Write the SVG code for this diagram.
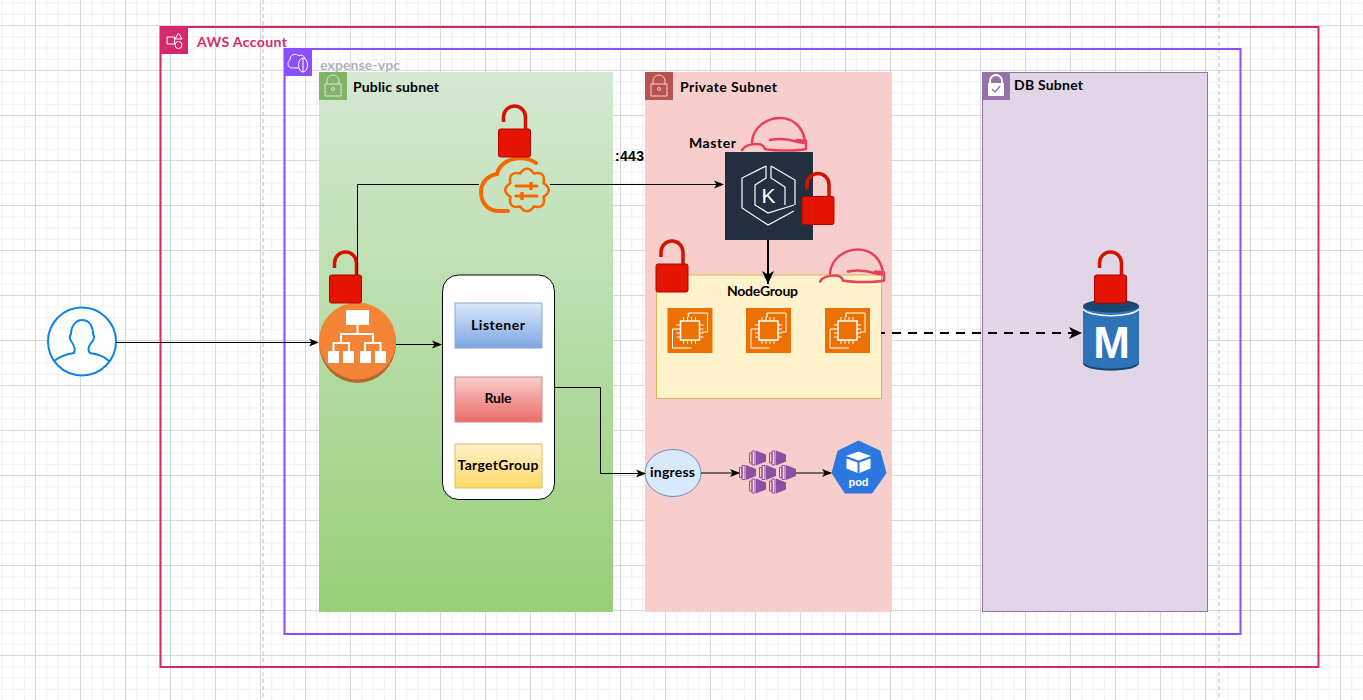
<svg xmlns="http://www.w3.org/2000/svg" width="1363" height="700" viewBox="0 0 1363 700">
<style>
text{font-family:"Comic Sans MS","Lato","Liberation Sans",sans-serif;font-weight:700;font-size:14px;fill:#000}
.m{text-anchor:middle}
.c{fill:none;stroke:#000;stroke-width:1}
.t{fill:none;stroke:#000;stroke-width:2}
.g{fill:none;stroke:#444;stroke-width:1.500}
.hat{fill:none;stroke:#e8415a;stroke-width:2.500;stroke-linejoin:round;stroke-linecap:round}
</style>
<defs>
<pattern id="g" width="45" height="45" patternUnits="userSpaceOnUse" x="35" y="25">
<path d="M11.750 0V45M23 0V45M34.250 0V45M0 11.750H45M0 23H45M0 34.250H45" stroke="#f0f0f0" stroke-width="1" fill="none"/>
<path d="M.5 0V45M0 .5H45" stroke="#d9d9d9" stroke-width="1" fill="none"/>
</pattern>
<linearGradient id="gs" x1="0" y1="0" x2="0" y2="1"><stop offset="0" stop-color="#d5e8d4"/><stop offset="1" stop-color="#97d077"/></linearGradient>
<linearGradient id="gl" x1="0" y1="0" x2="0" y2="1"><stop offset="0" stop-color="#dae8fc"/><stop offset="1" stop-color="#7ea6e0"/></linearGradient>
<linearGradient id="gr" x1="0" y1="0" x2="0" y2="1"><stop offset="0" stop-color="#f8cecc"/><stop offset="1" stop-color="#ea6b66"/></linearGradient>
<linearGradient id="gt" x1="0" y1="0" x2="0" y2="1"><stop offset="0" stop-color="#fff2cc"/><stop offset="1" stop-color="#ffd966"/></linearGradient>
<marker id="a" markerWidth="10" markerHeight="10" refX="9" refY="5" orient="auto" markerUnits="userSpaceOnUse"><path d="M0 1L10 5L0 9L2.500 5Z" fill="#000"/></marker>
<marker id="b" markerWidth="14" markerHeight="14" refX="13" refY="7" orient="auto" markerUnits="userSpaceOnUse"><path d="M0 1L13 7L0 13L3.500 7Z" fill="#000"/></marker>
<g id="lock"><path d="M-11 -21V-26A11 11 0 0 1 11 -26V-14" fill="none" stroke="#d41200" stroke-width="3.500"/><rect x="-16" y="-14" width="32" height="28" rx="2" fill="#e51400" stroke="#b20000"/></g>
<g id="hat"><path class="hat" d="M-23 7C-22 -8 -8 -17 5 -17C18 -17 28 -8 30 6M-33 15C-30 10 -25 9 -18 9C-14 9 -11 11 -10 14C0 16 22 16 31 14V6L22 5M-5 5C4 3 14 4 23 7L29 8"/></g>
<g id="ec2"><rect width="45" height="45" fill="#ed7100"/><path d="M21 5H40V24H35M24 40H5V21H10" fill="none" stroke="#fff" stroke-width="1"/><path d="M21 9V5M13 13H32V32H13Z" fill="none" stroke="#fff" stroke-width="1.500"/><path d="M16 13V9M20 13V9M24 13V9M28 13V9M16 36V32M20 36V32M24 36V32M28 36V32M9 17H13M9 21H13M9 25H13M9 29H13M32 17H36M32 21H36M32 25H36M32 29H36" stroke="#fff" stroke-width="1"/></g>
<g id="cont"><path d="M.5 -5H3V5H.5ZM3 -7H6V7H3Z" fill="none" stroke="#8c4fa3" stroke-width="1"/><path d="M7 -7.500L17 -3.500V3.500L7 7.500Z" fill="#8c4fa3"/></g>
</defs>
<rect width="1363" height="700" fill="#fff"/>
<rect width="1363" height="700" fill="url(#g)"/>
<path d="M263 0V700M1219 0V700" stroke="#bdbdbd" stroke-width="1" stroke-dasharray="4 3" fill="none"/>

<g id="aws-account">
<rect x="160.500" y="27" width="1158" height="640" fill="none" stroke="#d6286c" stroke-width="2"/>
<rect x="160" y="26" width="28" height="28" fill="#d6286c"/>
<path d="M167 37H174.500V44H167ZM178.500 33L182 39H175Z" fill="none" stroke="#fff" stroke-width="1"/><circle cx="178.500" cy="45" r="3.500" fill="none" stroke="#fff"/>
<text x="197" y="47" textLength="90" style="fill:#d6286c">AWS Account</text>
</g>
<g id="expense-vpc">
<rect x="284.500" y="49" width="956" height="585" fill="none" stroke="#8c4fff" stroke-width="2"/>
<rect x="284" y="48" width="28" height="28" fill="#8c4fff"/>
<path d="M299 68H292C287 68 287 61 290 60C290 54 296 53 299 56C301 54 305 56 305 59" fill="none" stroke="#fff"/><ellipse cx="303" cy="65" rx="4.500" ry="7" fill="none" stroke="#fff"/><path d="M303 58V72" stroke="#fff"/>
<text x="320" y="70" textLength="80" style="fill:#aab7b8">expense-vpc</text>
</g>
<g id="public-subnet">
<rect x="319" y="72" width="294" height="540" fill="url(#gs)"/>
<rect x="319" y="72" width="28" height="28" fill="#82b366"/>
<path d="M327 84V81A6 6 0 0 1 339 81V84M325 84H341V96H325Z" fill="none" stroke="#d5e8d4"/><circle cx="333" cy="89" r="1.500" fill="none" stroke="#d5e8d4"/>
<text x="353" y="92" textLength="86">Public subnet</text>
</g>
<g id="private-subnet">
<rect x="645" y="72" width="247" height="540" fill="#f8cecc"/>
<rect x="645" y="72" width="28" height="28" fill="#b85450"/>
<path d="M653 84V81A6 6 0 0 1 665 81V84M651 84H667V96H651Z" fill="none" stroke="#f8cecc"/><circle cx="659" cy="89" r="1.500" fill="none" stroke="#f8cecc"/>
<text x="680" y="92" textLength="97">Private Subnet</text>
</g>
<g id="db-subnet">
<rect x="982.500" y="72.500" width="225" height="539" fill="#e1d5e7" stroke="#9673a6"/>
<rect x="982" y="72" width="28" height="28" fill="#9673a6"/>
<path d="M990 83V81A6 6 0 0 1 1002 81V83" fill="none" stroke="#fff" stroke-width="2"/><rect x="988" y="83" width="16" height="13" rx="1" fill="#fff"/><path d="M992 89L995 92L1000 86" fill="none" stroke="#9673a6" stroke-width="1.500"/>
<text x="1014" y="90" textLength="69">DB Subnet</text>
</g>

<g id="user">
<circle cx="82" cy="341.500" r="34" fill="#fff" stroke="#0a84e8" stroke-width="2"/>
<path d="M54 361C60 356 68 354 74 353C76 349 74 345 71 341C69 338 70 335 71 334C71 326 76 320 82 320C89 320 93 326 93 334C95 336 94 339 92 342C89 345 87 350 90 353C97 354 104 356 109 361" fill="none" stroke="#0a84e8" stroke-width="2"/>
</g>
<g id="load-balancer">
<ellipse cx="357.500" cy="343.500" rx="38.500" ry="39.500" fill="#b5672f"/>
<circle cx="357.500" cy="341" r="38.500" fill="#f58536"/>
<path d="M357.500 325V334M341 343V334H373V343M333.500 351V343H349V351M365 351V343H380.500V351" fill="none" stroke="#fff" stroke-width="2"/>
<rect x="346" y="310" width="23" height="15" fill="#fff"/><rect x="328" y="351" width="11" height="12" fill="#fff"/><rect x="343" y="351" width="11" height="12" fill="#fff"/><rect x="360" y="351" width="11" height="12" fill="#fff"/><rect x="375" y="351" width="11" height="12" fill="#fff"/>
<use href="#lock" x="345.500" y="289"/>
</g>
<g id="alb-rules">
<rect x="442.500" y="275" width="112" height="224.500" rx="16" fill="#fff" stroke="#000"/>
</g>
<g id="listener"><rect x="455" y="303" width="87" height="45" fill="url(#gl)" stroke="#8aa8d0"/><text class="m" x="498" y="330" textLength="54">Listener</text></g>
<g id="rule"><rect x="455" y="377" width="87" height="45" fill="url(#gr)" stroke="#d08a88"/><text class="m" x="498" y="403" textLength="27">Rule</text></g>
<g id="target-group"><rect x="455" y="444" width="87" height="44" fill="url(#gt)" stroke="#e0c060"/><text class="m" x="498" y="470" textLength="81">TargetGroup</text></g>

<g id="nat-gateway">
<path d="M536 163C528 157 514 157 506 162C501 165 498 169 497 174C486 176 481 184 481 192C481 203 488 211 499 211H508" fill="none" stroke="#f56a00" stroke-width="4" stroke-linecap="round"/>
<path d="M543.600 183.100Q554 190 543.600 196.900Q546 209 533.900 206.600Q527 216 520.100 206.600Q508 209 510.400 196.900Q500 190 510.400 183.100Q508 171 520.100 173.400Q527 164 533.900 173.400Q546 171 543.600 183.100Z" fill="none" stroke="#f56a00" stroke-width="2.500"/>
<path d="M516 186H537M516 196H537" stroke="#f56a00" stroke-width="3" fill="none" stroke-linecap="round"/>
<path d="M531 182V190M522 192V200" stroke="#f56a00" stroke-width="3.500" fill="none"/>
<use href="#lock" x="514.500" y="143"/>
<text x="615" y="161" textLength="29" style="font-family:'Liberation Sans',sans-serif">:443</text>
</g>
<g id="master">
<rect x="725" y="152" width="88" height="88" fill="#232f3e"/>
<path d="M766 166L742 178V208L768 225L794 211M771 166L795 180V205M766 166V178L755 185V205L768 213L794 205M771 166V178L785 187V205" fill="none" stroke="#fff" stroke-width="1.200"/>
<text class="m" x="768.500" y="203" style="font-family:'Liberation Sans',sans-serif;font-size:21px;font-weight:400;fill:#fff">K</text>
<text x="689" y="148" textLength="47">Master</text>
<use href="#hat" x="775" y="135"/>
<use href="#lock" x="818" y="210.500"/>
</g>
<g id="node-group">
<rect x="656.500" y="275" width="225" height="123.500" fill="#fff2cc" stroke="#d6b656"/>
<text class="m" x="762.500" y="296" textLength="71">NodeGroup</text>
<use href="#lock" x="672" y="278"/>
<use href="#hat" x="853" y="266.500"/>
</g>
<g id="ec2-1"><use href="#ec2" x="667.500" y="308"/></g>
<g id="ec2-2"><use href="#ec2" x="746" y="308"/></g>
<g id="ec2-3"><use href="#ec2" x="825" y="308"/></g>
<g id="rds">
<path d="M1083 306V362C1083 373 1139 373 1139 362V306Z" fill="#2e73b8"/>
<path d="M1083 361C1083 371 1139 371 1139 361V363C1139 373 1083 373 1083 363Z" fill="#1a476f"/>
<ellipse cx="1111" cy="306" rx="28" ry="6.500" fill="#1a476f"/>
<path d="M1083 309C1090 318 1132 318 1139 309" fill="none" stroke="#fff" stroke-width="1.500"/>
<text class="m" x="1111.500" y="358" style="font-family:'Liberation Sans',sans-serif;font-size:44px;fill:#fff">M</text>
<use href="#lock" x="1110.500" y="289"/>
</g>
<g id="ingress"><ellipse cx="673" cy="473" rx="28" ry="23.500" fill="#dae8fc" stroke="#6c8ebf"/><text class="m" x="672.500" y="477" textLength="45">ingress</text></g>
<g id="replicaset">
<use href="#cont" x="749" y="458"/><use href="#cont" x="769" y="458"/>
<use href="#cont" x="739" y="472.500"/><use href="#cont" x="759" y="472.500"/><use href="#cont" x="779" y="472.500"/>
<use href="#cont" x="749" y="486"/><use href="#cont" x="769" y="486"/>
</g>
<g id="pod">
<path d="M858.500 441L880 451L886 473L872 493H845L832 473L838 451Z" fill="#2c78e0" stroke="#2c78e0" stroke-linejoin="round"/>
<path d="M858.500 451.500L871 456L858.500 460.500L846 456ZM846.500 458.500L857.500 462.500V473L846.500 468.500ZM870.500 458.500V468.500L859.500 473V462.500Z" fill="#fff"/>
<text class="m" x="858.500" y="485.500" style="font-family:'Liberation Sans',sans-serif;font-size:11px;fill:#fff">pod</text>
</g>

<g id="connectors">
<path class="c" d="M116 342.500H318" marker-end="url(#a)"/>
<path class="c" d="M357.500 275V184.500H479M550 184.500H723" marker-end="url(#a)"/>
<path class="c" d="M396 344.500H441" marker-end="url(#a)"/>
<path class="c" d="M555 387.500H600.500V473.500H645" marker-end="url(#a)"/>
<path class="t" d="M768 240V284" marker-end="url(#b)"/>
<path class="t" d="M881 333H1082" stroke-dasharray="9 7" stroke-dashoffset="5" marker-end="url(#b)"/>
<path class="g" d="M701 473H739" marker-end="url(#a)"/>
<path class="g" d="M796 473H831" marker-end="url(#a)"/>
</g>
</svg>
